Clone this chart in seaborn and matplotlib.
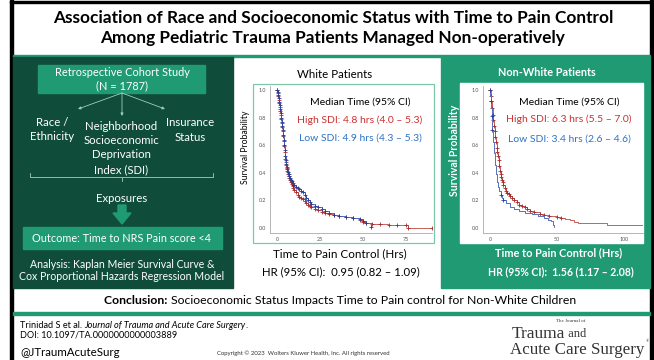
import matplotlib

matplotlib.use("Agg")

import matplotlib.pyplot as plt
import numpy as np
import pandas as pd
import seaborn as sns
from matplotlib.patches import Polygon, Rectangle

W, H = 654, 360

# --------------------------------------------------------------------------- #
# Kaplan-Meier curves (time in hrs, survival probability)
# --------------------------------------------------------------------------- #
white_high_t = [0, 0.3, 0.6, 0.9, 1.2, 1.5, 1.8, 2.1, 2.4, 2.7,
                3.0, 3.3, 3.6, 3.9, 4.2, 4.5, 4.8, 5.1, 5.4, 5.7,
                6.0, 6.4, 6.8, 7.2, 7.6, 8.0, 8.5, 9.0, 9.5, 10,
                11, 12, 13, 14, 15, 16, 17, 18, 19, 20,
                22, 24, 26, 28, 30, 33, 36, 40, 44, 48,
                50, 52, 55, 60, 65, 70, 75, 76, 90]
white_high_s = [1.0, 0.98, 0.96, 0.93, 0.905, 0.88, 0.85, 0.82, 0.79, 0.76,
                0.73, 0.70, 0.665, 0.63, 0.595, 0.55, 0.5, 0.475, 0.455, 0.435,
                0.415, 0.395, 0.378, 0.362, 0.35, 0.335, 0.318, 0.302, 0.29, 0.278,
                0.258, 0.24, 0.228, 0.218, 0.208, 0.195, 0.182, 0.17, 0.16, 0.15,
                0.14, 0.128, 0.118, 0.11, 0.1, 0.093, 0.087, 0.08, 0.07, 0.058,
                0.046, 0.04, 0.03, 0.027, 0.025, 0.022, 0.02, 0.003, 0.003]

white_low_t = [0, 0.3, 0.6, 0.9, 1.2, 1.5, 1.8, 2.1, 2.4, 2.7,
               3.0, 3.3, 3.6, 3.9, 4.2, 4.5, 4.8, 5.1, 5.4, 5.7,
               6.0, 6.4, 6.8, 7.2, 7.6, 8.0, 8.5, 9.0, 9.5, 10,
               11, 12, 13, 14, 15, 16, 17, 18, 19, 20,
               22, 24, 26, 28, 30, 33, 36, 40, 44, 48,
               50, 52, 54.5]
white_low_s = [1.0, 0.985, 0.965, 0.94, 0.915, 0.89, 0.86, 0.83, 0.80, 0.77,
               0.74, 0.71, 0.675, 0.64, 0.605, 0.565, 0.52, 0.49, 0.465, 0.445,
               0.425, 0.405, 0.39, 0.375, 0.362, 0.35, 0.338, 0.325, 0.315, 0.31,
               0.3, 0.29, 0.28, 0.27, 0.26, 0.24, 0.22, 0.2, 0.185, 0.175,
               0.16, 0.15, 0.14, 0.125, 0.11, 0.095, 0.087, 0.08, 0.072, 0.062,
               0.053, 0.04, 0.01]

nonwhite_high_t = [0, 0.5, 1, 1.5, 2, 2.5, 3, 3.5, 4, 4.5,
                   5, 5.5, 6, 6.5, 7, 7.5, 8, 8.5, 9, 9.5,
                   10, 11, 12, 13, 14, 15, 16.5, 18, 20, 22,
                   24, 26, 28, 30, 33, 37, 40, 44, 50, 53,
                   56, 60, 63, 66, 87, 114]
nonwhite_high_s = [1.0, 0.96, 0.92, 0.87, 0.82, 0.78, 0.74, 0.7, 0.66, 0.62,
                   0.58, 0.55, 0.52, 0.49, 0.45, 0.41, 0.39, 0.37, 0.35, 0.33,
                   0.31, 0.29, 0.27, 0.255, 0.245, 0.235, 0.22, 0.205, 0.185, 0.17,
                   0.16, 0.15, 0.14, 0.125, 0.115, 0.1, 0.095, 0.09, 0.08, 0.07,
                   0.065, 0.057, 0.045, 0.034, 0.02, 0.02]

nonwhite_low_t = [0, 0.3, 0.6, 0.9, 1.2, 1.5, 1.8, 2.1, 2.4, 2.7,
                  3.0, 3.4, 3.8, 4.2, 4.6, 5.0, 5.5, 6.2, 7, 8,
                  9, 10, 12, 15, 18, 22, 26, 31, 36, 40,
                  43, 45.5, 47, 48]
nonwhite_low_s = [1.0, 0.96, 0.92, 0.87, 0.81, 0.76, 0.71, 0.66, 0.62, 0.58,
                  0.54, 0.5, 0.46, 0.42, 0.39, 0.36, 0.33, 0.3, 0.27, 0.24,
                  0.22, 0.2, 0.18, 0.15, 0.135, 0.12, 0.11, 0.1, 0.085, 0.07,
                  0.06, 0.05, 0.02, 0.01]

white_xticks = [0, 25, 50, 75]
nonwhite_xticks = [0, 50, 100]
yticks = [0.0, 0.2, 0.4, 0.6, 0.8, 1.0]

white_median = ["Median Time (95% CI)", "High SDI: 4.8 hrs (4.0 \u2013 5.3)",
                "Low SDI: 4.9 hrs (4.3 \u2013 5.3)"]
nonwhite_median = ["Median Time (95% CI)", "High SDI: 6.3 hrs (5.5 \u2013 7.0)",
                   "Low SDI: 3.4 hrs (2.6 \u2013 4.6)"]
white_hr = "HR (95% CI):  0.95 (0.82 \u2013 1.09)"
nonwhite_hr = "HR (95% CI):  1.56 (1.17 \u2013 2.08)"

DARK = "#0f4d3a"
TEAL = "#1f9a72"
RED_TXT = "#cf2e2e"
BLUE_TXT = "#2e73c6"
RED_LN = "#c9625c"
BLUE_LN = "#5570bd"

sns.set_theme(style="white")
plt.rcParams["font.family"] = ["Lato", "DejaVu Sans"]

fig = plt.figure(figsize=(W / 100, H / 100), dpi=100)
bg = fig.add_axes([0, 0, 1, 1])
bg.set_xlim(0, W)
bg.set_ylim(H, 0)
bg.axis("off")
renderer = fig.canvas.get_renderer()


def rect(x0, y0, x1, y1, **kw):
    bg.add_patch(Rectangle((x0, y0), x1 - x0, y1 - y0, **kw))


def runs(x, y, parts, ha="center"):
    """Draw consecutive text runs with different styles on one baseline."""
    objs = [bg.text(0, y, s, va="center", ha="left", **kw) for s, kw in parts]
    widths = [o.get_window_extent(renderer).width for o in objs]
    start = x - sum(widths) / 2 if ha == "center" else x
    for o, w in zip(objs, widths):
        o.set_x(start)
        start += w


# frame + header
rect(0, 0, W, H, color="white")
rect(10, 0, 13, H, color="black")
rect(650, 0, W, H, color="black")
rect(10, 1, W, 3, color="black")
rect(13, 54.5, 650, 57, color=TEAL)
bg.text(333, 18, "Association of Race and Socioeconomic Status with Time to Pain Control",
        ha="center", va="center", fontsize=12.4, fontweight="bold", color="black")
bg.text(333, 38, "Among Pediatric Trauma Patients Managed Non-operatively",
        ha="center", va="center", fontsize=12.4, fontweight="bold", color="black")

# left panel: study design
rect(13, 57, 233, 288, color=DARK)
rect(38, 65, 205, 93, color=TEAL)
bg.text(122, 72, "Retrospective Cohort Study", ha="center", va="center",
        fontsize=7.9, color="white")
bg.text(122, 86, "(N = 1787)", ha="center", va="center", fontsize=7.9, color="white")
for tx, ty in [(78, 109), (122, 116), (165, 109)]:
    bg.annotate("", xy=(tx, ty), xytext=(122, 93),
                arrowprops=dict(arrowstyle="-|>", color="#9ccfb8", lw=0.6,
                                mutation_scale=4, shrinkA=0, shrinkB=0))
for i, s in enumerate(["Race /", "Ethnicity"]):
    bg.text(52, 122 + 14.5 * i, s, ha="center", va="center", fontsize=8.2, color="white")
for i, s in enumerate(["Neighborhood", "Socioeconomic", "Deprivation", "Index (SDI)"]):
    bg.text(121, 126 + 14.5 * i, s, ha="center", va="center", fontsize=8.2, color="white")
for i, s in enumerate(["Insurance", "Status"]):
    bg.text(190, 123 + 14.5 * i, s, ha="center", va="center", fontsize=8.2, color="white")
bg.plot([30, 30, 213, 213], [173, 177, 177, 173], color="#9ab8aa", lw=0.7)
bg.plot([122, 122], [177, 181], color="#9ab8aa", lw=0.7)
bg.text(122, 198, "Exposures", ha="center", va="center", fontsize=8.2, color="white")
bg.add_patch(Polygon([(118, 205), (126, 205), (126, 213), (131, 213), (122, 224),
                      (113, 213), (118, 213)], closed=True, color=TEAL))
rect(23, 227, 222, 249, color=TEAL)
bg.text(122, 238, "Outcome: Time to NRS Pain score <4", ha="center", va="center",
        fontsize=7.8, color="white")
bg.text(122, 264, "Analysis: Kaplan Meier Survival Curve &", ha="center", va="center",
        fontsize=7.6, color="white")
bg.text(122, 277, "Cox Proportional Hazards Regression Model", ha="center", va="center",
        fontsize=7.6, color="white")

# middle panel: white patients
bg.text(335, 75, "White Patients", ha="center", va="center", fontsize=8.3, color="black")
rect(253, 84, 434, 243, facecolor="white", edgecolor="#7cc8ad", lw=0.9)
bg.text(245, 147, "Survival Probability", ha="center", va="center", rotation=90,
        fontsize=6.2, color="black")
bg.text(340, 254, "Time to Pain Control (Hrs)", ha="center", va="center",
        fontsize=8.4, color="black")
bg.text(341, 272, white_hr, ha="center", va="center", fontsize=8.2, color="black")

# right panel: non-white patients
rect(441, 57, 650, 288, color=TEAL)
rect(460, 83, 643, 243, color="white")
bg.text(547, 73, "Non-White Patients", ha="center", va="center", fontsize=7.8,
        fontweight="bold", color="white")
bg.text(455, 150, "Survival Probability", ha="center", va="center", rotation=90,
        fontsize=7.6, fontweight="bold", color="white")
bg.text(559, 253, "Time to Pain Control (Hrs)", ha="center", va="center",
        fontsize=7.9, fontweight="bold", color="white")
bg.text(561, 272, nonwhite_hr, ha="center", va="center", fontsize=7.6,
        fontweight="bold", color="white")

# bottom: conclusion + citation
runs(340, 300, [("Conclusion: ", dict(fontsize=8.8, fontweight="bold", color="black")),
                ("Socioeconomic Status Impacts Time to Pain control for Non-White Children",
                 dict(fontsize=8.8, color="black"))])
rect(13, 312, 650, 314.5, color=TEAL)
cite = dict(fontsize=6.6, color="black")
runs(20, 325, [("Trinidad S et al. ", cite),
               ("Journal of Trauma and Acute Care Surgery", dict(cite, style="italic")),
               (".", cite)], ha="left")
bg.text(20, 335, "DOI: 10.1097/TA.0000000000003889", ha="left", va="center", **cite)
bg.text(20, 352, "@JTraumAcuteSurg", ha="left", va="center", fontsize=8.3, color="black")
bg.text(303, 353, "Copyright \u00a9 2023  Wolters Kluwer Health, Inc. All rights reserved",
        ha="center", va="center", fontsize=4.3, color="#333333")
serif = ["Liberation Serif", "DejaVu Serif"]
bg.text(556, 321, "The Journal of", ha="left", va="center", fontsize=3.6,
        family=serif, color="#333333")
runs(512, 334, [("Trauma", dict(fontsize=12.5, family=serif, color="#333333")),
                (" and", dict(fontsize=9, family=serif, color="#333333"))], ha="left")
bg.text(510, 350, "Acute Care Surgery", ha="left", va="center", fontsize=12.2,
        family=serif, color="#333333")
bg.text(647, 341, "\u00ae", ha="center", va="center", fontsize=3, family=serif,
        color="#333333")


def km_axes(box, xlim, xticks, curves):
    x0, y0, x1, y1 = box
    ax = fig.add_axes([x0 / W, 1 - y1 / H, (x1 - x0) / W, (y1 - y0) / H])
    ax.set_facecolor("none")
    for t, s, line_c, mark_c, every in curves:
        sns.lineplot(x=t, y=s, ax=ax, drawstyle="steps-post", color=line_c, lw=0.7,
                     marker="+", markersize=3, markeredgewidth=0.6,
                     markeredgecolor=mark_c, markevery=every, errorbar=None,
                     estimator=None, sort=False)
    ax.set_xlim(*xlim)
    ax.set_ylim(-0.036, 1.029)
    ax.set_xticks(xticks)
    ax.set_yticks(yticks)
    ax.set_yticklabels([f"{v:.1f}" for v in yticks])
    ax.set_xlabel("")
    ax.set_ylabel("")
    ax.tick_params(labelsize=3.9, colors="#555555", length=1.5, width=0.4, pad=1.5)
    for side in ("top", "right"):
        ax.spines[side].set_visible(False)
    for side in ("left", "bottom"):
        ax.spines[side].set_color("#aaaaaa")
        ax.spines[side].set_linewidth(0.6)
    return ax


ax_w = km_axes((270, 86, 432, 233), (-4.1, 90.1), white_xticks, [
    (white_high_t, white_high_s, RED_LN, "#a82a2a", None),
    (white_low_t, white_low_s, BLUE_LN, "#2c3c95", None),
])
ax_nw = km_axes((483, 86, 643, 233), (-5.2, 114.2), nonwhite_xticks, [
    (nonwhite_high_t, nonwhite_high_s, RED_LN, "#a82a2a", list(range(0, 40))),
    (nonwhite_low_t, nonwhite_low_s, BLUE_LN, "#2c3c95", [0, 2, 4, 6, 19, 21]),
])

for ax, lines, (xc, ys) in [(ax_w, white_median, (360, (102, 120, 138))),
                            (ax_nw, nonwhite_median, (569, (102, 119, 139)))]:
    for s, y, c in zip(lines, ys, ["black", RED_TXT, BLUE_TXT]):
        fig.text(xc / W, 1 - y / H, s, ha="center", va="center", fontsize=7.5, color=c)

fig.savefig("out.png", dpi=100)
